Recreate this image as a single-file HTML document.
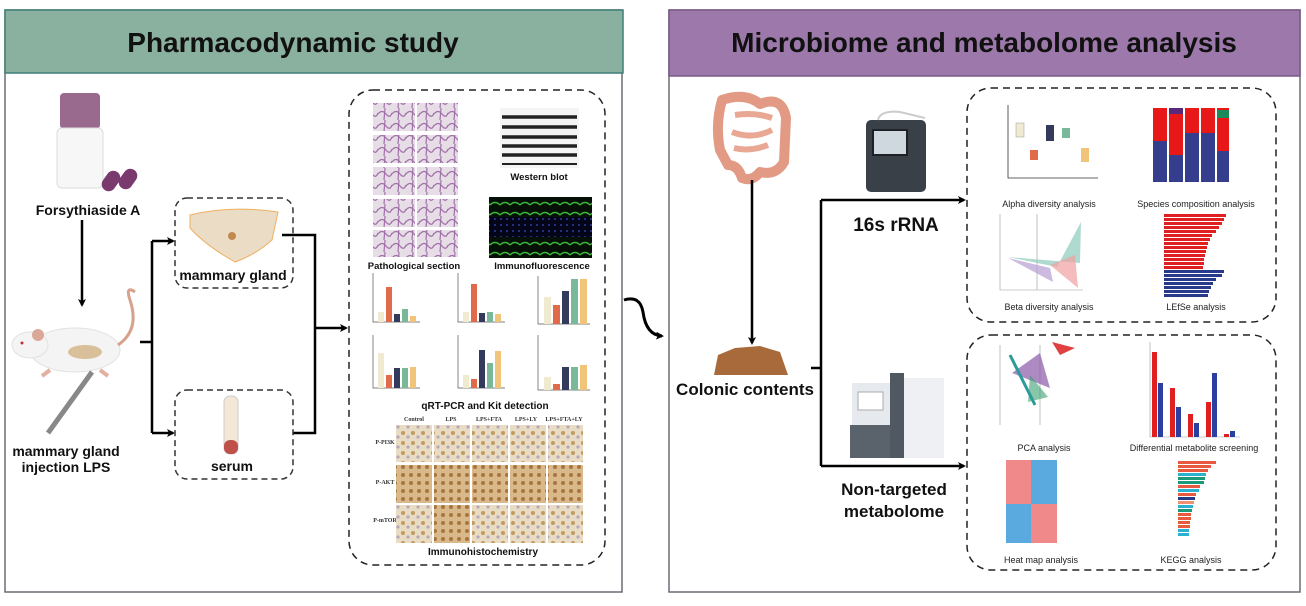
<!DOCTYPE html>
<html><head><meta charset="utf-8"><style>
html,body{margin:0;padding:0;background:#fff;}
svg{display:block;font-family:"Liberation Sans",Arial,sans-serif;}
.t{font-weight:bold;fill:#111;text-anchor:middle;}
</style></head><body>
<svg width="1306" height="606" viewBox="0 0 1306 606" xmlns="http://www.w3.org/2000/svg">
<defs>
<marker id="ah" markerWidth="8" markerHeight="8" refX="6" refY="4" orient="auto" markerUnits="userSpaceOnUse"><path d="M0,0 L8,4 L0,8 L2,4z" fill="#000"/></marker>
<pattern id="he" width="14" height="12" patternUnits="userSpaceOnUse"><rect width="14" height="12" fill="#e6dde6"/><path d="M0,6 Q4,1 8,6 T14,5 M7,0 L6,12" stroke="#a070a8" stroke-width="1.2" fill="none"/></pattern>
<pattern id="ihc" width="10" height="10" patternUnits="userSpaceOnUse"><rect width="10" height="10" fill="#e9dcc4"/><circle cx="3" cy="3" r="2" fill="#c49a62"/><circle cx="8" cy="7" r="1.6" fill="#b9a8b8"/></pattern>
<pattern id="ihc2" width="8" height="8" patternUnits="userSpaceOnUse"><rect width="8" height="8" fill="#d9b88a"/><circle cx="3" cy="3" r="2" fill="#a87440"/></pattern>
<pattern id="ifg" width="10" height="10" patternUnits="userSpaceOnUse"><rect width="10" height="10" fill="#061006"/><path d="M0,5 Q5,0 10,5" stroke="#3cb83c" stroke-width="1.5" fill="none"/></pattern>
<pattern id="ifb" width="6" height="6" patternUnits="userSpaceOnUse"><rect width="6" height="6" fill="#05051a"/><circle cx="3" cy="3" r="1" fill="#2a3ea0"/></pattern>
</defs>

<rect x="5" y="10" width="617" height="582" fill="#fff" stroke="#6b6b75" stroke-width="1.5"/>
<rect x="5" y="10" width="618" height="63" fill="#8ab0a0" stroke="#3f7f78" stroke-width="1.5"/>
<text x="293" y="52" class="t" font-size="28">Pharmacodynamic study</text>

<rect x="669" y="10" width="631" height="582" fill="#fff" stroke="#6b6b75" stroke-width="1.5"/>
<rect x="669" y="10" width="631" height="66" fill="#9d79ab" stroke="#7a5a88" stroke-width="1.5"/>
<text x="984" y="52" class="t" font-size="28">Microbiome and metabolome analysis</text>

<rect x="60" y="93" width="40" height="36" rx="4" fill="#9a6a8e"/>
<rect x="57" y="128" width="46" height="60" rx="5" fill="#f7f7f7" stroke="#ddd"/>
<g fill="#7a3a6e"><rect x="104" y="170" width="14" height="22" rx="7" transform="rotate(35 111 181)"/><rect x="121" y="168" width="14" height="22" rx="7" transform="rotate(35 128 179)"/></g>
<text x="88" y="215" class="t" font-size="14">Forsythiaside A</text>
<line x1="82" y1="220" x2="82" y2="305" stroke="#000" stroke-width="2.5" marker-end="url(#ah)"/>
<ellipse cx="75" cy="350" rx="45" ry="22" fill="#f4f4f4" stroke="#e2e2e2"/>
<ellipse cx="30" cy="345" rx="18" ry="13" fill="#f4f4f4" stroke="#e2e2e2"/>
<circle cx="38" cy="335" r="6" fill="#dba898"/>
<circle cx="22" cy="343" r="1.5" fill="#c03030"/>
<ellipse cx="85" cy="352" rx="17" ry="7" fill="#d9c09a"/>
<path d="M50,370 l-8,6 M100,370 l8,6" stroke="#e2b0a0" stroke-width="4"/>
<path d="M118,345 Q140,330 130,300 Q125,285 135,292" stroke="#d8a18c" stroke-width="3" fill="none"/>
<line x1="92" y1="372" x2="48" y2="433" stroke="#888" stroke-width="5"/>
<text x="66" y="456" class="t" font-size="14">mammary gland</text>
<text x="66" y="472" class="t" font-size="14">injection LPS</text>
<g stroke="#000" stroke-width="2.5" fill="none">
<path d="M140,342 H152 M152,241 V433"/>
<line x1="152" y1="241" x2="173" y2="241" marker-end="url(#ah)"/>
<line x1="152" y1="433" x2="173" y2="433" marker-end="url(#ah)"/>
<path d="M282,235 H315 V433 H293"/>
<line x1="315" y1="328" x2="346" y2="328" marker-end="url(#ah)"/>
</g>
<rect x="175" y="198" width="118" height="90" rx="12" fill="none" stroke="#333" stroke-width="1.5" stroke-dasharray="6,4"/>
<path d="M190,215 Q230,205 278,212 L272,240 Q255,255 235,262 Q205,245 190,228z" fill="#eadcc5" stroke="#f0b060"/>
<circle cx="232" cy="236" r="4" fill="#c08a50"/>
<text x="233" y="280" class="t" font-size="14">mammary gland</text>
<rect x="175" y="390" width="118" height="89" rx="12" fill="none" stroke="#333" stroke-width="1.5" stroke-dasharray="6,4"/>
<rect x="224" y="396" width="14" height="58" rx="6" fill="#f3e8d6" stroke="#ccc"/>
<rect x="224" y="440" width="14" height="14" rx="6" fill="#c0504a"/>
<text x="232" y="471" class="t" font-size="14">serum</text>

<rect x="349" y="90" width="256" height="475" rx="24" fill="none" stroke="#222" stroke-width="1.5" stroke-dasharray="7,5"/>
<g fill="url(#he)">
<rect x="373" y="103" width="42" height="28"/><rect x="417" y="103" width="41" height="28"/>
<rect x="373" y="135" width="42" height="28"/><rect x="417" y="135" width="41" height="28"/>
<rect x="373" y="167" width="42" height="28"/><rect x="417" y="167" width="41" height="28"/>
<rect x="373" y="199" width="42" height="28"/><rect x="417" y="199" width="41" height="28"/>
<rect x="373" y="230" width="42" height="27"/><rect x="417" y="230" width="41" height="27"/>
</g>
<text x="414" y="269" class="t" font-size="9.5">Pathological section</text>
<rect x="500" y="108" width="79" height="60" fill="#f4f4f4"/>
<g stroke="#222" stroke-width="3.5">
<line x1="502" y1="117" x2="577" y2="117"/><line x1="502" y1="127" x2="577" y2="127"/><line x1="502" y1="137" x2="577" y2="137"/><line x1="502" y1="146" x2="577" y2="146"/><line x1="502" y1="155" x2="577" y2="155"/><line x1="502" y1="164" x2="577" y2="164" stroke-width="2"/>
</g>
<text x="539" y="180" class="t" font-size="9.5">Western blot</text>
<rect x="489" y="197" width="103" height="20" fill="url(#ifg)"/>
<rect x="489" y="217" width="103" height="20" fill="url(#ifb)"/>
<rect x="489" y="237" width="103" height="21" fill="url(#ifg)"/>
<text x="542" y="269" class="t" font-size="9.5">Immunofluorescence</text>
<g stroke="#555" stroke-width="0.7" fill="none">
<path d="M373,273 V322 H420 M458,273 V322 H505 M538,276 V324 H590 M373,335 V388 H420 M458,335 V388 H505 M538,335 V390 H590"/>
</g>
<g>
<rect x="378" y="312" width="6" height="10" fill="#f0ead0"/><rect x="386" y="287" width="6" height="35" fill="#e06a4a"/><rect x="394" y="314" width="6" height="8" fill="#343a5c"/><rect x="402" y="309" width="6" height="13" fill="#7ab89a"/><rect x="410" y="316" width="6" height="6" fill="#f2c47a"/>
<rect x="463" y="312" width="6" height="10" fill="#f0ead0"/><rect x="471" y="284" width="6" height="38" fill="#e06a4a"/><rect x="479" y="313" width="6" height="9" fill="#343a5c"/><rect x="487" y="312" width="6" height="10" fill="#7ab89a"/><rect x="495" y="314" width="6" height="8" fill="#f2c47a"/>
<rect x="544" y="297" width="7" height="27" fill="#f0ead0"/><rect x="553" y="305" width="7" height="19" fill="#e06a4a"/><rect x="562" y="291" width="7" height="33" fill="#343a5c"/><rect x="571" y="279" width="7" height="45" fill="#7ab89a"/><rect x="580" y="279" width="7" height="45" fill="#f2c47a"/>
<rect x="378" y="353" width="6" height="35" fill="#f0ead0"/><rect x="386" y="375" width="6" height="13" fill="#e06a4a"/><rect x="394" y="368" width="6" height="20" fill="#343a5c"/><rect x="402" y="368" width="6" height="20" fill="#7ab89a"/><rect x="410" y="367" width="6" height="21" fill="#f2c47a"/>
<rect x="463" y="375" width="6" height="13" fill="#f0ead0"/><rect x="471" y="379" width="6" height="9" fill="#e06a4a"/><rect x="479" y="350" width="6" height="38" fill="#343a5c"/><rect x="487" y="363" width="6" height="25" fill="#7ab89a"/><rect x="495" y="351" width="6" height="37" fill="#f2c47a"/>
<rect x="544" y="377" width="7" height="13" fill="#f0ead0"/><rect x="553" y="384" width="7" height="6" fill="#e06a4a"/><rect x="562" y="367" width="7" height="23" fill="#343a5c"/><rect x="571" y="367" width="7" height="23" fill="#7ab89a"/><rect x="580" y="365" width="7" height="25" fill="#f2c47a"/>
</g>
<text x="485" y="409" class="t" font-size="10">qRT-PCR and Kit detection</text>
<g font-size="6" fill="#333" font-family="Liberation Serif,serif" font-weight="bold" text-anchor="middle">
<text x="414" y="421">Control</text><text x="451" y="421">LPS</text><text x="489" y="421">LPS+FTA</text><text x="526" y="421">LPS+LY</text><text x="564" y="421">LPS+FTA+LY</text>
<text x="385" y="444">P-PI3K</text><text x="385" y="484">P-AKT</text><text x="385" y="522">P-mTOR</text>
</g>
<g fill="url(#ihc)">
<rect x="396" y="425" width="36" height="37"/><rect x="434" y="425" width="36" height="37"/><rect x="472" y="425" width="36" height="37"/><rect x="510" y="425" width="36" height="37"/><rect x="548" y="425" width="35" height="37"/>
<rect x="396" y="505" width="36" height="38"/><rect x="472" y="505" width="36" height="38"/><rect x="510" y="505" width="36" height="38"/><rect x="548" y="505" width="35" height="38"/>
</g>
<g fill="url(#ihc2)">
<rect x="396" y="465" width="36" height="38"/><rect x="434" y="465" width="36" height="38"/><rect x="472" y="465" width="36" height="38"/><rect x="510" y="465" width="36" height="38"/><rect x="548" y="465" width="35" height="38"/>
<rect x="434" y="505" width="36" height="38"/>
</g>
<text x="483" y="555" class="t" font-size="10">Immunohistochemistry</text>

<path d="M624,300 Q640,295 643,312 Q646,335 662,336" stroke="#000" stroke-width="3" fill="none" marker-end="url(#ah)"/>

<path d="M722,100 Q745,92 760,104 Q782,95 786,118 L784,162 Q776,176 760,172 Q752,182 742,178 Q738,165 728,165 L720,150 Q715,125 722,100z" fill="none" stroke="#e39a85" stroke-width="10" stroke-linejoin="round"/>
<path d="M735,115 Q755,112 772,118 M732,132 Q752,140 772,130 M734,148 Q750,152 768,145" stroke="#e9a893" stroke-width="6" fill="none"/>
<line x1="752" y1="180" x2="752" y2="343" stroke="#000" stroke-width="2.5" marker-end="url(#ah)"/>
<path d="M714,375 L718,355 L735,348 L760,346 L780,352 L788,375z" fill="#a86a3a"/>
<text x="745" y="395" class="t" font-size="17">Colonic contents</text>
<g stroke="#000" stroke-width="2.5" fill="none">
<path d="M811,368 H821 M821,200 V466"/>
<line x1="821" y1="200" x2="964" y2="200" marker-end="url(#ah)"/>
<line x1="821" y1="466" x2="964" y2="466" marker-end="url(#ah)"/>
</g>
<rect x="866" y="120" width="60" height="72" rx="5" fill="#3a4048"/>
<rect x="873" y="130" width="34" height="25" fill="#cfd8de" stroke="#1e2227" stroke-width="2"/>
<path d="M878,120 Q880,110 900,112 L925,118" stroke="#ccc" stroke-width="2" fill="none"/>
<text x="896" y="231" class="t" font-size="19">16s rRNA</text>
<rect x="852" y="383" width="45" height="75" fill="#e6e9ee"/>
<rect x="890" y="373" width="14" height="85" fill="#505862"/>
<rect x="904" y="378" width="40" height="80" fill="#eef0f3"/>
<rect x="850" y="425" width="40" height="33" fill="#5a626c"/>
<rect x="858" y="392" width="25" height="18" fill="#fff" stroke="#aaa"/>
<text x="894" y="495" class="t" font-size="17">Non-targeted</text>
<text x="894" y="517" class="t" font-size="17">metabolome</text>

<rect x="967" y="88" width="309" height="234" rx="24" fill="none" stroke="#222" stroke-width="1.5" stroke-dasharray="7,5"/>
<rect x="967" y="335" width="309" height="235" rx="24" fill="none" stroke="#222" stroke-width="1.5" stroke-dasharray="7,5"/>

<path d="M1008,105 V178 H1098" stroke="#333" stroke-width="0.8" fill="none"/>
<rect x="1016" y="123" width="8" height="14" fill="#f1ead2" stroke="#999" stroke-width="0.5"/>
<rect x="1030" y="150" width="8" height="10" fill="#e06a4a"/>
<rect x="1046" y="125" width="8" height="16" fill="#343a5c"/>
<rect x="1062" y="128" width="8" height="10" fill="#7ab89a"/>
<rect x="1081" y="148" width="8" height="14" fill="#f2c47a"/>
<text x="1049" y="207" text-anchor="middle" font-size="9" fill="#222">Alpha diversity analysis</text>
<g>
<rect x="1153" y="108" width="14" height="74" fill="#343e8c"/><rect x="1153" y="108" width="14" height="33" fill="#e81818"/>
<rect x="1169" y="108" width="14" height="74" fill="#343e8c"/><rect x="1169" y="108" width="14" height="47" fill="#e81818"/><rect x="1169" y="108" width="14" height="6" fill="#5a2a7a"/>
<rect x="1185" y="108" width="14" height="74" fill="#343e8c"/><rect x="1185" y="108" width="14" height="25" fill="#e81818"/>
<rect x="1201" y="108" width="14" height="74" fill="#343e8c"/><rect x="1201" y="108" width="14" height="25" fill="#e81818"/>
<rect x="1217" y="108" width="12" height="74" fill="#343e8c"/><rect x="1217" y="108" width="12" height="43" fill="#e81818"/><rect x="1217" y="110" width="12" height="8" fill="#1a8a5a"/>
</g>
<text x="1196" y="207" text-anchor="middle" font-size="9" fill="#222">Species composition analysis</text>
<path d="M1000,214 V290 H1083 M1037,214 V290" stroke="#999" stroke-width="0.6" fill="none"/>
<path d="M1008,257 L1057,267 L1081,222 L1080,263z" fill="#8ccabb" opacity="0.7"/>
<path d="M1008,258 L1050,268 L1053,282z" fill="#b79cd3" opacity="0.7"/>
<path d="M1050,265 L1075,255 L1078,288z" fill="#f0a0a0" opacity="0.7"/>
<text x="1049" y="310" text-anchor="middle" font-size="9" fill="#222">Beta diversity analysis</text>
<g fill="#e02020">
<rect x="1164" y="214" width="62" height="3"/><rect x="1164" y="218" width="60" height="3"/><rect x="1164" y="222" width="58" height="3"/><rect x="1164" y="226" width="55" height="3"/><rect x="1164" y="230" width="52" height="3"/><rect x="1164" y="234" width="48" height="3"/><rect x="1164" y="238" width="46" height="3"/><rect x="1164" y="242" width="44" height="3"/><rect x="1164" y="246" width="43" height="3"/><rect x="1164" y="250" width="42" height="3"/><rect x="1164" y="254" width="41" height="3"/><rect x="1164" y="258" width="40" height="3"/><rect x="1164" y="262" width="40" height="3"/><rect x="1164" y="266" width="39" height="3"/>
</g>
<g fill="#2a3a8a">
<rect x="1164" y="270" width="60" height="3"/><rect x="1164" y="274" width="58" height="3"/><rect x="1164" y="278" width="52" height="3"/><rect x="1164" y="282" width="49" height="3"/><rect x="1164" y="286" width="47" height="3"/><rect x="1164" y="290" width="45" height="3"/><rect x="1164" y="294" width="44" height="3"/>
</g>
<text x="1196" y="310" text-anchor="middle" font-size="9" fill="#222">LEfSe analysis</text>
<path d="M1000,345 V425 M1040,345 V425" stroke="#999" stroke-width="0.6" fill="none"/>
<path d="M1012,373 L1040,353 L1050,388z" fill="#8a5aa8" opacity="0.7"/>
<path d="M1030,375 L1048,397 L1028,402z" fill="#3aa070" opacity="0.6"/>
<path d="M1010,355 L1035,405" stroke="#2a9a9a" stroke-width="3"/>
<path d="M1052,342 L1075,348 L1060,355z" fill="#e04040"/>
<text x="1044" y="451" text-anchor="middle" font-size="9" fill="#222">PCA analysis</text>
<path d="M1150,342 V437 H1240" stroke="#999" stroke-width="0.6" fill="none"/>
<rect x="1152" y="352" width="5" height="85" fill="#e02020"/><rect x="1158" y="383" width="5" height="54" fill="#2a40a0"/>
<rect x="1170" y="388" width="5" height="49" fill="#e02020"/><rect x="1176" y="407" width="5" height="30" fill="#2a40a0"/>
<rect x="1188" y="414" width="5" height="23" fill="#e02020"/><rect x="1194" y="423" width="5" height="14" fill="#2a40a0"/>
<rect x="1206" y="402" width="5" height="35" fill="#e02020"/><rect x="1212" y="373" width="5" height="64" fill="#2a40a0"/>
<rect x="1224" y="434" width="5" height="3" fill="#e02020"/><rect x="1230" y="431" width="5" height="6" fill="#2a40a0"/>
<text x="1194" y="451" text-anchor="middle" font-size="9" fill="#222">Differential metabolite screening</text>
<rect x="1006" y="460" width="25" height="44" fill="#f08a8a"/><rect x="1031" y="460" width="26" height="44" fill="#5aaae0"/>
<rect x="1006" y="504" width="25" height="39" fill="#5aaae0"/><rect x="1031" y="504" width="26" height="39" fill="#f08a8a"/>
<text x="1041" y="563" text-anchor="middle" font-size="9" fill="#222">Heat map analysis</text>
<g>
<rect x="1178" y="461" width="38" height="3" fill="#e85a40"/><rect x="1178" y="465" width="33" height="3" fill="#e85a40"/><rect x="1178" y="469" width="30" height="3" fill="#e85a40"/><rect x="1178" y="473" width="28" height="3" fill="#2ab0d0"/><rect x="1178" y="477" width="27" height="3" fill="#1a9a7a"/><rect x="1178" y="481" width="26" height="3" fill="#1a9a7a"/><rect x="1178" y="485" width="22" height="3" fill="#e85a40"/><rect x="1178" y="489" width="21" height="3" fill="#2ab0d0"/><rect x="1178" y="493" width="18" height="3" fill="#e85a40"/><rect x="1178" y="497" width="17" height="3" fill="#2a3a8a"/><rect x="1178" y="501" width="16" height="3" fill="#f09070"/><rect x="1178" y="505" width="15" height="3" fill="#2ab0d0"/><rect x="1178" y="509" width="14" height="3" fill="#1a9a7a"/><rect x="1178" y="513" width="13" height="3" fill="#e85a40"/><rect x="1178" y="517" width="13" height="3" fill="#e85a40"/><rect x="1178" y="521" width="12" height="3" fill="#e85a40"/><rect x="1178" y="525" width="12" height="3" fill="#e85a40"/><rect x="1178" y="529" width="11" height="3" fill="#2ab0d0"/><rect x="1178" y="533" width="11" height="3" fill="#2ab0d0"/>
</g>
<text x="1191" y="563" text-anchor="middle" font-size="9" fill="#222">KEGG analysis</text>
</svg>
</body></html>
